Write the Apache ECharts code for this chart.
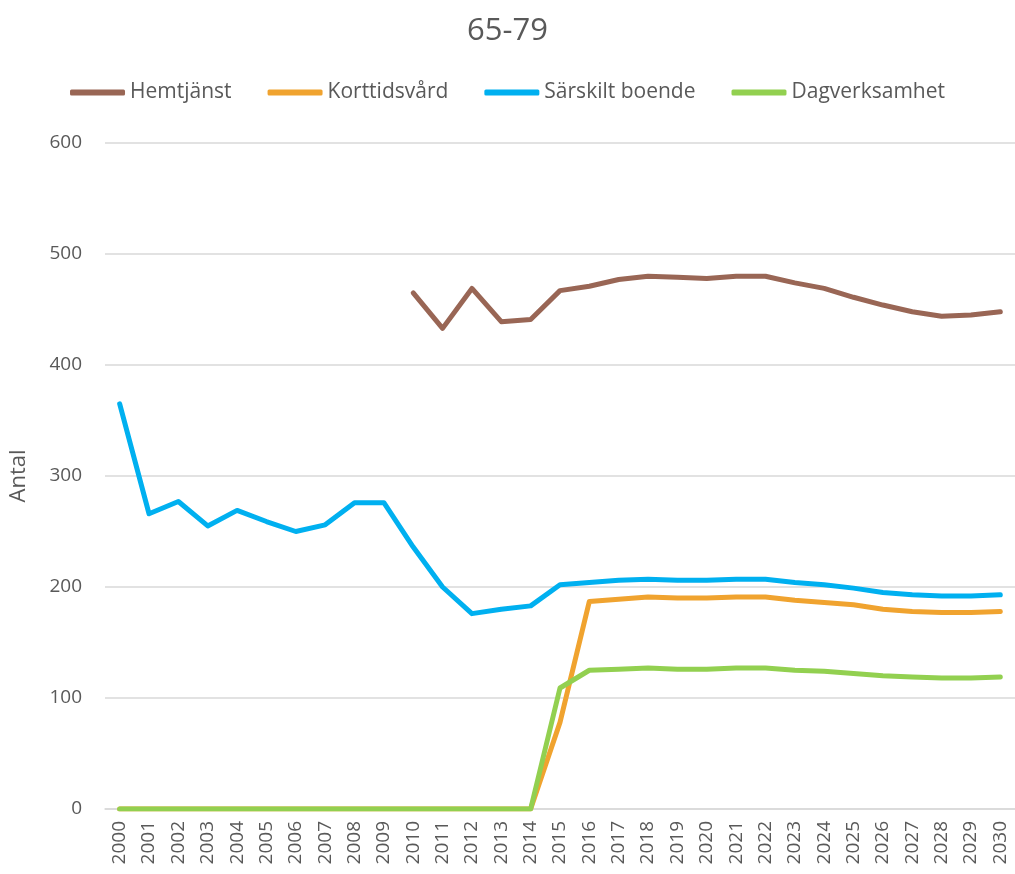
<!DOCTYPE HTML>
<html style="height: 100%">
<head>
    <meta charset="utf-8">
    <title>65-79</title>
    <style>
        html, body { margin: 0; padding: 0; background: #fff; }
        #container { width: 1015px; height: 874px; }
    </style>
</head>
<body>
    <div id="container"></div>
    <script src="https://cdn.jsdelivr.net/npm/echarts@6/dist/echarts.min.js"></script>
    <script>
        // år 2000 - 2030
        var years = [];
        for (var y = 2000; y <= 2030; y++) { years.push(String(y)); }

        var hemtjanst = [null, null, null, null, null, null, null, null, null, null,
            465, 433, 469, 439, 441, 467, 471, 477, 480, 479, 478, 480, 480, 474, 469, 461, 454, 448, 444, 445, 448];
        var korttidsvard = [0, 0, 0, 0, 0, 0, 0, 0, 0, 0, 0, 0, 0, 0, 0,
            78, 187, 189, 191, 190, 190, 191, 191, 188, 186, 184, 180, 178, 177, 177, 178];
        var sarskiltBoende = [365, 266, 277, 255, 269, 259, 250, 256, 276, 276,
            236, 200, 176, 180, 183, 202, 204, 206, 207, 206, 206, 207, 207, 204, 202, 199, 195, 193, 192, 192, 193];
        var dagverksamhet = [0, 0, 0, 0, 0, 0, 0, 0, 0, 0, 0, 0, 0, 0, 0,
            109, 125, 126, 127, 126, 126, 127, 127, 125, 124, 122, 120, 119, 118, 118, 119];

        var textColor = '#595959';
        var font = '"Open Sans", Lato, sans-serif';

        function line(name, data, color) {
            return {
                name: name,
                type: 'line',
                data: data,
                symbol: 'none',
                connectNulls: false,
                lineStyle: { width: 5, color: color, cap: 'round', join: 'round' },
                itemStyle: { color: color }
            };
        }

        var myChart = echarts.init(document.getElementById('container'));
        var option = {
            backgroundColor: '#fff',
            animation: false,
            title: {
                text: '65-79',
                left: 'center',
                top: 11,
                textStyle: { color: textColor, fontSize: 31, fontWeight: 'normal', fontFamily: font }
            },
            legend: {
                top: 77,
                left: 'center',
                icon: 'roundRect',
                itemWidth: 55,
                itemHeight: 6,
                itemGap: 36,
                textStyle: { color: textColor, fontSize: 21, fontFamily: font },
                data: ['Hemtjänst', 'Korttidsvård', 'Särskilt boende', 'Dagverksamhet']
            },
            grid: { left: 104, right: -6, top: 143, bottom: 65, containLabel: false },
            xAxis: {
                type: 'category',
                data: years,
                boundaryGap: true,
                axisLine: { lineStyle: { color: '#d9d9d9', width: 1.5 } },
                axisTick: { show: false },
                axisLabel: {
                    rotate: 90,
                    interval: 0,
                    margin: 12,
                    color: textColor,
                    fontSize: 19,
                    fontFamily: font
                }
            },
            yAxis: {
                type: 'value',
                min: 0,
                max: 600,
                interval: 100,
                name: 'Antal',
                nameLocation: 'middle',
                nameGap: 75,
                nameTextStyle: { color: textColor, fontSize: 22, fontFamily: font },
                axisLine: { show: false },
                axisTick: { show: false },
                axisLabel: { color: textColor, fontSize: 19, margin: 23, fontFamily: font },
                splitLine: { lineStyle: { color: '#d9d9d9', width: 1.5 } }
            },
            series: [
                line('Hemtjänst', hemtjanst, '#996655'),
                line('Korttidsvård', korttidsvard, '#F0A32F'),
                line('Särskilt boende', sarskiltBoende, '#00B0F0'),
                line('Dagverksamhet', dagverksamhet, '#92D050')
            ]
        };
        myChart.setOption(option);
    </script>
</body>
</html>
